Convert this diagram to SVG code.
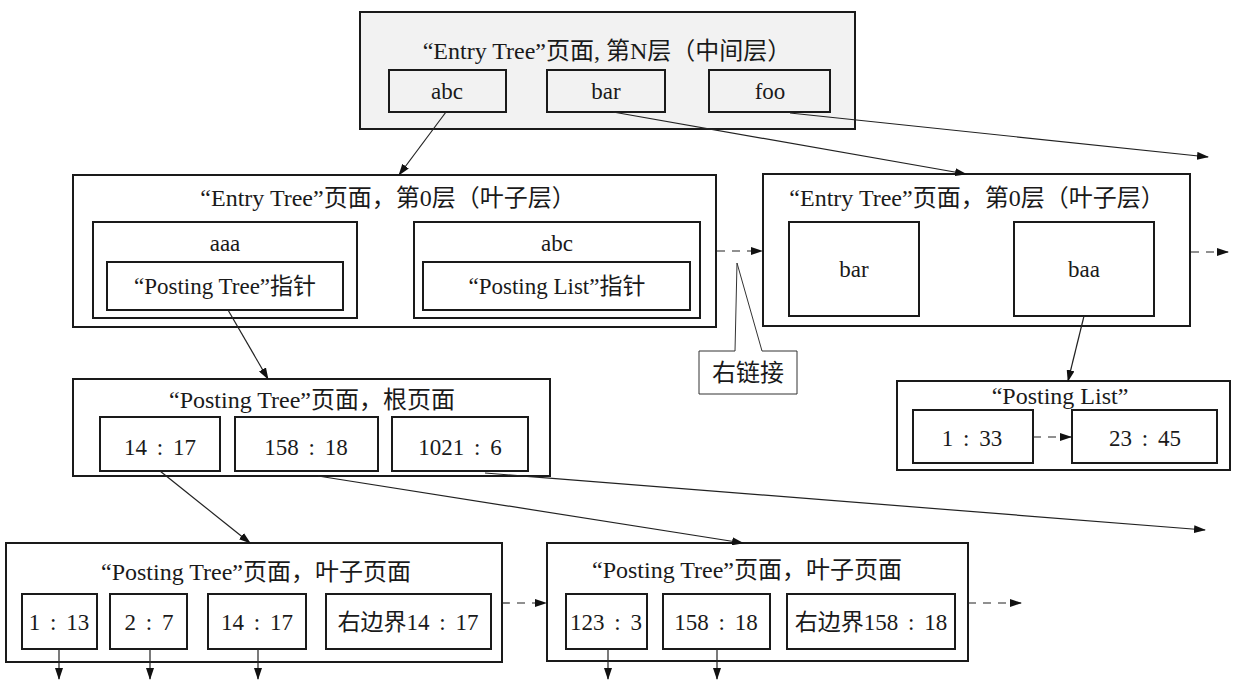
<svg xmlns="http://www.w3.org/2000/svg" width="1241" height="696" viewBox="0 0 1241 696">
<defs>
<marker id="ah" markerWidth="12" markerHeight="8" refX="11" refY="4" orient="auto" markerUnits="userSpaceOnUse">
<path d="M0,0 L12,4 L0,8 Z" fill="#111"/>
</marker>
<style>
.box{fill:#fff;stroke:#1a1a1a;stroke-width:2}
.gbox{fill:#f2f2f2;stroke:#1a1a1a;stroke-width:2}
.t{font-family:"Liberation Serif","Noto Sans CJK SC",serif;font-size:23px;fill:#1a1a1a;text-anchor:middle}
.n{word-spacing:4px}
.tt{font-family:"Liberation Serif","Noto Sans CJK SC",serif;font-size:24px;fill:#1a1a1a;text-anchor:middle}
.ln{fill:none;stroke:#222;stroke-width:1.2}
.dl{fill:none;stroke:#222;stroke-width:1.2;stroke-dasharray:8 7}
</style>
</defs>
<rect width="1241" height="696" fill="#fff"/>

<g id="entry-mid">
<rect class="gbox" x="360" y="12" width="495" height="117"/>
<text class="tt" x="607" y="59">“Entry Tree”页面, 第N层（中间层）</text>
<rect class="gbox" x="389" y="70" width="117" height="42"/>
<text class="t" x="447" y="99">abc</text>
<rect class="gbox" x="547" y="70" width="118" height="42"/>
<text class="t" x="606" y="99">bar</text>
<rect class="gbox" x="709" y="70" width="121" height="42"/>
<text class="t" x="770" y="99">foo</text>
</g>

<g id="entry-leaf-1">
<rect class="box" x="73" y="175" width="643" height="152"/>
<text class="tt" x="388" y="206">“Entry Tree”页面，第0层（叶子层）</text>
<rect class="box" x="93" y="222" width="264" height="96"/>
<text class="t" x="225" y="251">aaa</text>
<rect class="box" x="107" y="262" width="236" height="48"/>
<text class="t" x="225" y="294">“Posting Tree”指针</text>
<rect class="box" x="414" y="222" width="286" height="96"/>
<text class="t" x="557" y="251">abc</text>
<rect class="box" x="423" y="262" width="267" height="48"/>
<text class="t" x="557" y="294">“Posting List”指针</text>
</g>

<g id="entry-leaf-2">
<rect class="box" x="763" y="174" width="427" height="152"/>
<text class="tt" x="977" y="206">“Entry Tree”页面，第0层（叶子层）</text>
<rect class="box" x="789" y="222" width="130" height="94"/>
<text class="t" x="854" y="277">bar</text>
<rect class="box" x="1014" y="222" width="140" height="94"/>
<text class="t" x="1084" y="277">baa</text>
</g>

<g id="callout">
<path d="M699,351 L735,351 L737,263 L762,351 L797,351 L797,394 L699,394 Z" fill="#fff" stroke="#333" stroke-width="1"/>
<text class="tt" x="748" y="381">右链接</text>
</g>

<g id="posting-root">
<rect class="box" x="73" y="379" width="477" height="97"/>
<text class="tt" x="312" y="408">“Posting Tree”页面，根页面</text>
<rect class="box" x="100" y="417" width="120" height="54"/>
<text class="t n" x="160" y="455">14 : 17</text>
<rect class="box" x="235" y="417" width="143" height="54"/>
<text class="t n" x="306" y="455">158 : 18</text>
<rect class="box" x="392" y="417" width="136" height="54"/>
<text class="t n" x="460" y="455">1021 : 6</text>
</g>

<g id="posting-list">
<rect class="box" x="897" y="381" width="333" height="89"/>
<text class="tt" x="1060" y="404">“Posting List”</text>
<rect class="box" x="913" y="410" width="120" height="53"/>
<text class="t n" x="972" y="446">1 : 33</text>
<rect class="box" x="1072" y="410" width="145" height="53"/>
<text class="t n" x="1145" y="446">23 : 45</text>
</g>

<g id="posting-leaf-1">
<rect class="box" x="6" y="543" width="496" height="119"/>
<text class="tt" x="256" y="580">“Posting Tree”页面，叶子页面</text>
<rect class="box" x="22" y="594" width="75" height="55"/>
<text class="t n" x="59" y="630">1 : 13</text>
<rect class="box" x="110" y="594" width="77" height="55"/>
<text class="t n" x="149" y="630">2 : 7</text>
<rect class="box" x="208" y="594" width="98" height="55"/>
<text class="t n" x="257" y="630">14 : 17</text>
<rect class="box" x="326" y="594" width="165" height="55"/>
<text class="t n" x="408" y="630">右边界14 : 17</text>
</g>

<g id="posting-leaf-2">
<rect class="box" x="547" y="543" width="421" height="118"/>
<text class="tt" x="747" y="578">“Posting Tree”页面，叶子页面</text>
<rect class="box" x="566" y="594" width="81" height="55"/>
<text class="t n" x="606" y="630">123 : 3</text>
<rect class="box" x="663" y="594" width="107" height="55"/>
<text class="t n" x="716" y="630">158 : 18</text>
<rect class="box" x="787" y="594" width="168" height="55"/>
<text class="t n" x="871" y="630">右边界158 : 18</text>
</g>

<g id="connectors">
<line class="ln" x1="446" y1="112" x2="399" y2="175" marker-end="url(#ah)"/>
<line class="ln" x1="613" y1="112" x2="966" y2="174" marker-end="url(#ah)"/>
<line class="ln" x1="790" y1="113" x2="1208" y2="157" marker-end="url(#ah)"/>
<line class="dl" x1="717" y1="251" x2="762" y2="251" marker-end="url(#ah)"/>
<line class="dl" x1="1191" y1="252" x2="1228" y2="252" marker-end="url(#ah)"/>
<line class="ln" x1="1084" y1="316" x2="1068" y2="381" marker-end="url(#ah)"/>
<line class="dl" x1="1033" y1="437" x2="1071" y2="437" marker-end="url(#ah)"/>
<line class="ln" x1="228" y1="310" x2="268" y2="379" marker-end="url(#ah)"/>
<line class="ln" x1="160" y1="471" x2="250" y2="543" marker-end="url(#ah)"/>
<line class="ln" x1="318" y1="476" x2="743" y2="543" marker-end="url(#ah)"/>
<line class="ln" x1="485" y1="473" x2="1205" y2="530" marker-end="url(#ah)"/>
<line class="dl" x1="502" y1="603" x2="546" y2="603" marker-end="url(#ah)"/>
<line class="dl" x1="968" y1="603" x2="1021" y2="603" marker-end="url(#ah)"/>
<line class="ln" x1="59" y1="649" x2="59" y2="679" marker-end="url(#ah)"/>
<line class="ln" x1="150" y1="649" x2="150" y2="679" marker-end="url(#ah)"/>
<line class="ln" x1="258" y1="649" x2="258" y2="679" marker-end="url(#ah)"/>
<line class="ln" x1="608" y1="649" x2="608" y2="679" marker-end="url(#ah)"/>
<line class="ln" x1="717" y1="649" x2="717" y2="679" marker-end="url(#ah)"/>
</g>
</svg>
